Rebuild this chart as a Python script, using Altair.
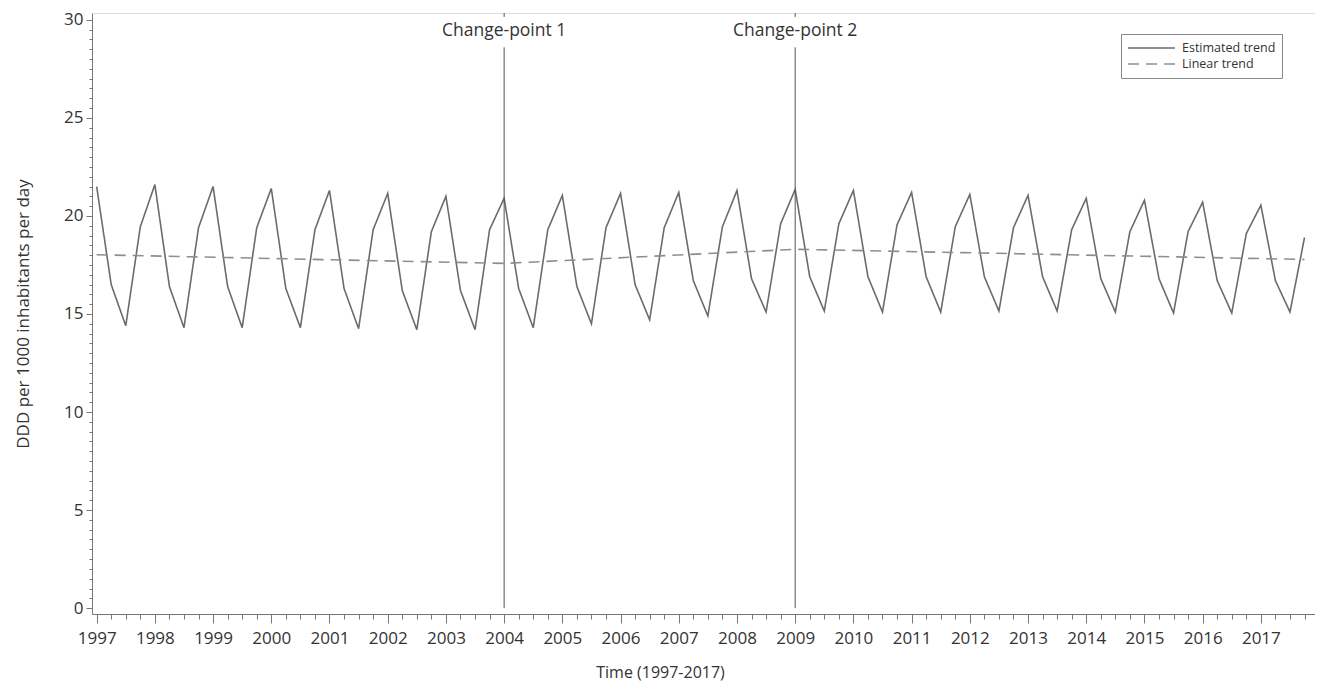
import altair as alt
import pandas as pd

# ---- data ----
years = list(range(1997, 2018))
# quarterly vertices of the estimated trend (Q1 peak, Q2, Q3 trough, Q4)
q1 = [21.5, 21.6, 21.5, 21.4, 21.3, 21.15, 21.0, 20.9, 21.05, 21.15, 21.2,
      21.3, 21.35, 21.3, 21.2, 21.1, 21.05, 20.9, 20.8, 20.7, 20.55]
q2 = [16.5, 16.4, 16.4, 16.3, 16.3, 16.2, 16.2, 16.3, 16.4, 16.5, 16.7,
      16.8, 16.9, 16.9, 16.9, 16.9, 16.9, 16.8, 16.8, 16.7, 16.7]
q3 = [14.4, 14.3, 14.3, 14.3, 14.25, 14.2, 14.2, 14.3, 14.5, 14.7, 14.9,
      15.1, 15.15, 15.1, 15.1, 15.15, 15.15, 15.1, 15.05, 15.05, 15.1]
q4 = [19.45, 19.4, 19.4, 19.3, 19.3, 19.2, 19.3, 19.3, 19.4, 19.4, 19.45,
      19.6, 19.6, 19.55, 19.45, 19.4, 19.3, 19.2, 19.2, 19.1, 18.9]
trend_t = [1997.0, 2004.0, 2009.0, 2017.75]
trend_v = [18.02, 17.58, 18.30, 17.78]
change_t = [2004, 2009]
change_labels = ["Change-point 1", "Change-point 2"]
series_names = ["Estimated trend", "Linear trend"]

rows = []
for i, yr in enumerate(years):
    for q, vals in enumerate([q1, q2, q3, q4]):
        rows.append({"t": yr + q * 0.25, "v": vals[i], "series": series_names[0]})
for t, v in zip(trend_t, trend_v):
    rows.append({"t": t, "v": v, "series": series_names[1]})
df = pd.DataFrame(rows)
cp = pd.DataFrame({"t": change_t, "label": change_labels})

FONT = "Open Sans"
x_ticks = [1997 + k * 0.25 for k in range(0, 84)]
y_ticks = [k * 0.5 for k in range(0, 61)]

xscale = alt.Scale(domain=[1996.92, 2017.93], nice=False, zero=False)
yscale = alt.Scale(domain=[-0.3, 30.35], nice=False, zero=False)

xaxis = alt.Axis(
    values=x_ticks, tickCount=1000,
    labelExpr="datum.value % 1 === 0 ? format(datum.value, 'd') : ''",
    tickSize={"condition": {"test": "datum.value % 1 === 0", "value": 9}, "value": 5},
    labelOverlap=False, labelFlush=False, grid=False,
    labelFontSize=17, labelPadding=7, labelColor="#333",
    title="Time (1997-2017)", titleFontSize=16, titleFontWeight="normal",
    titleColor="#333", titlePadding=18, titleX=568,
    domainColor="#777", tickColor="#777",
)
yaxis = alt.Axis(
    values=y_ticks, tickCount=1000,
    labelExpr="datum.value % 5 === 0 ? format(datum.value, 'd') : ''",
    tickSize={"condition": {"test": "datum.value % 5 === 0", "value": 6}, "value": 3},
    labelOverlap=False, labelFlush=False, grid=False,
    labelFontSize=17, labelPadding=3, labelColor="#333",
    title="DDD per 1000 inhabitants per day", titleFontSize=17,
    titleFontWeight="normal", titleColor="#333", titlePadding=31,
    domainColor="#777", tickColor="#777",
)

legend = alt.Legend(orient="none", legendX=1029, legendY=21, title=None,
                    strokeColor="#888", fillColor="white", padding=6,
                    labelFontSize=12.5, labelColor="#333", symbolType="stroke",
                    symbolSize=2200, symbolStrokeWidth=1.6, rowPadding=0,
                    clipHeight=16, labelOffset=6)

lines = alt.Chart(df).mark_line(strokeWidth=1.6).encode(
    x=alt.X("t:Q", scale=xscale, axis=xaxis),
    y=alt.Y("v:Q", scale=yscale, axis=yaxis),
    color=alt.Color("series:N", scale=alt.Scale(domain=series_names, range=["#6b6b6b", "#8e8e8e"]),
                    legend=legend),
    strokeDash=alt.StrokeDash("series:N", scale=alt.Scale(domain=series_names, range=[[1, 0], [11, 7]]),
                              legend=legend),
    order="t:Q",
)

rules = alt.Chart(cp).mark_rule(color="#555", strokeWidth=1).encode(
    x="t:Q",
    y=alt.Y(datum=0),
    y2=alt.Y2(datum=28.6),
)
top_marks = alt.Chart(cp).mark_rule(color="#555", strokeWidth=1).encode(
    x="t:Q",
    y=alt.Y(datum=30.35),
    y2=alt.Y2(datum=30.15),
)

labels = alt.Chart(cp).mark_text(fontSize=17.5, color="#333", font=FONT, baseline="middle").encode(
    x="t:Q",
    y=alt.Y(datum=29.45),
    text="label:N",
)

chart = alt.layer(lines, rules, top_marks, labels).properties(
    width=1223, height=601,
    autosize=alt.AutoSizeParams(type="none"),
    padding={"left": 84, "top": 5, "right": 0, "bottom": 71},
).configure_view(stroke="#999", strokeWidth=1).configure(
    font=FONT
).configure_axis(labelFont=FONT, titleFont=FONT).configure_legend(labelFont=FONT)

chart.save("out.html", embed_options={"renderer": "svg", "actions": False})
